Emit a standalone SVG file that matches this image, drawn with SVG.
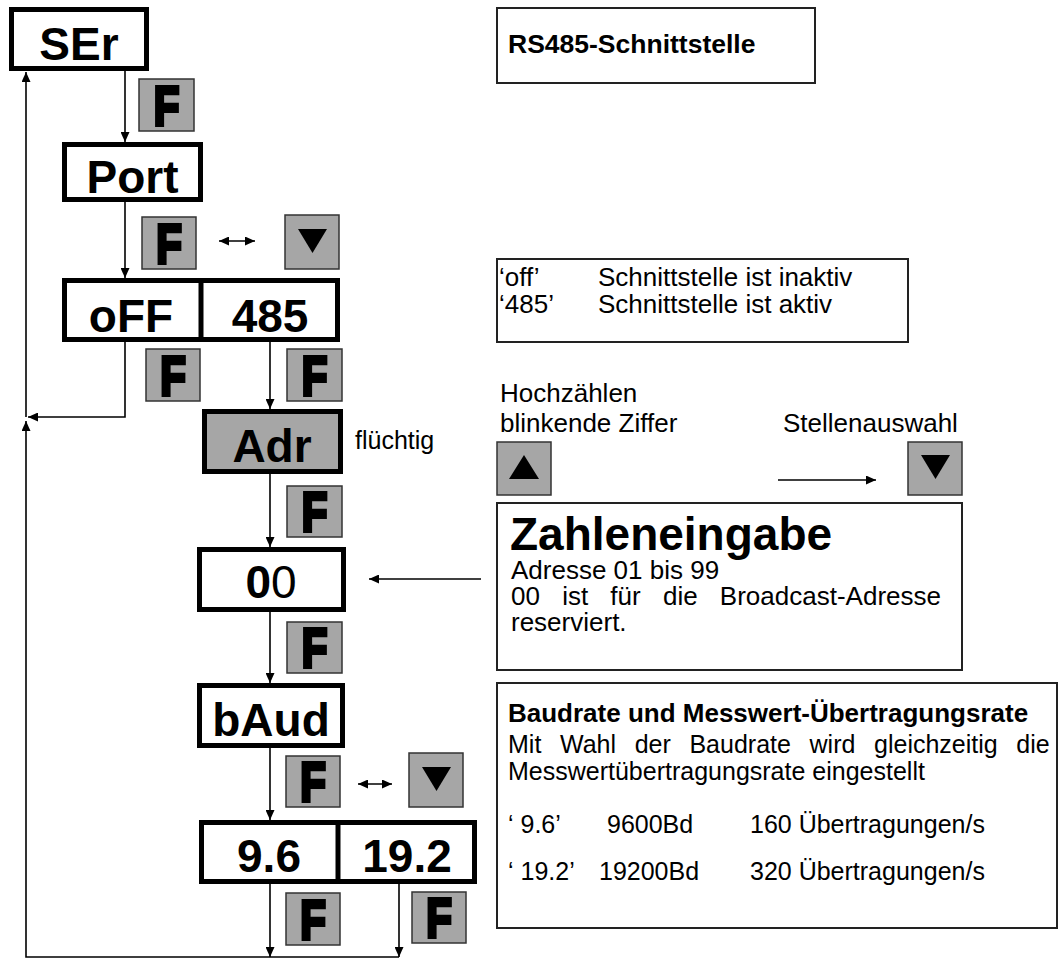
<svg xmlns="http://www.w3.org/2000/svg" width="1060" height="959" viewBox="0 0 1060 959">
<defs>
<style>
.node rect{fill:#fff;stroke:#000;stroke-width:5}
.node line{stroke:#000;stroke-width:5}
.gray rect{fill:#a6a6a6}
.lbl{font-family:'Liberation Sans',Arial,sans-serif;font-weight:bold;font-size:46px;text-anchor:middle;fill:#000}
.btn{fill:#a6a6a6;stroke:#333;stroke-width:1.5}
.fk{font-family:'Liberation Sans',Arial,sans-serif;font-weight:bold;font-size:56px;text-anchor:middle;fill:#000;stroke:#000;stroke-width:4;stroke-linejoin:miter}
.tri{fill:#000}
.conn{fill:none;stroke:#000;stroke-width:1.6}
.box{fill:#fff;stroke:#222;stroke-width:2}
.t{font-family:'Liberation Sans',Arial,sans-serif;font-size:26px;fill:#000}
.s{font-size:25px}
.b{font-weight:bold}
.big{font-size:46px}
</style>
<marker id="ah" viewBox="0 0 10 9" refX="10" refY="4.5" markerWidth="10" markerHeight="9" markerUnits="userSpaceOnUse" orient="auto-start-reverse">
<path d="M0,0 L10,4.5 L0,9 z" fill="#000"/>
</marker>
</defs>

<g id="connectors">
<path class="conn" d="M125,71 V142" marker-end="url(#ah)"/>
<path class="conn" d="M125,202 V278" marker-end="url(#ah)"/>
<path class="conn" d="M125,342 V417 H28" marker-end="url(#ah)"/>
<path class="conn" d="M26,417 V72" marker-end="url(#ah)"/>
<path class="conn" d="M270,342 V409" marker-end="url(#ah)"/>
<path class="conn" d="M270,474 V547" marker-end="url(#ah)"/>
<path class="conn" d="M270,612 V683" marker-end="url(#ah)"/>
<path class="conn" d="M270,748 V820" marker-end="url(#ah)"/>
<path class="conn" d="M270,884 V957" marker-end="url(#ah)"/>
<path class="conn" d="M399,884 V957" marker-end="url(#ah)"/>
<path class="conn" d="M399,957 H26 V421" marker-end="url(#ah)"/>
<path class="conn" d="M481,579 H369" marker-end="url(#ah)"/>
<path class="conn" d="M778,480 H876" marker-end="url(#ah)"/>
<path class="conn" d="M219,241 H255" marker-start="url(#ah)" marker-end="url(#ah)"/>
<path class="conn" d="M358,784 H392" marker-start="url(#ah)" marker-end="url(#ah)"/>
</g>

<g id="node-ser" class="node"><rect x="11.5" y="9.5" width="135" height="59"/><text class="lbl" x="79" y="60">SEr</text></g>
<g id="node-port" class="node"><rect x="64.5" y="144.5" width="136" height="55"/><text class="lbl" x="132.5" y="193">Port</text></g>
<g id="node-off-485" class="node"><rect x="64.5" y="280.5" width="273" height="59"/><line x1="201" y1="280" x2="201" y2="340"/><text class="lbl" x="131" y="332">oFF</text><text class="lbl" x="270" y="332">485</text></g>
<g id="node-adr" class="node gray"><rect x="204.5" y="411.5" width="136" height="60"/><text class="lbl" x="272" y="462">Adr</text></g>
<g id="node-00" class="node"><rect x="199.5" y="549.5" width="144" height="60"/><text class="lbl" x="271" y="598"><tspan>0</tspan><tspan style="font-weight:normal">0</tspan></text></g>
<g id="node-baud" class="node"><rect x="199.5" y="685.5" width="143" height="60"/><text class="lbl" x="271" y="736">bAud</text></g>
<g id="node-96-192" class="node"><rect x="201.5" y="822.5" width="273" height="59"/><line x1="338" y1="822" x2="338" y2="882"/><text class="lbl" x="269" y="872">9.6</text><text class="lbl" x="407" y="872">19.2</text></g>

<g id="fkey-1"><rect class="btn" x="139" y="79" width="55" height="52"/><text class="fk" transform="translate(166.5,125) scale(0.75,1)">F</text></g>
<g id="fkey-2"><rect class="btn" x="142" y="217" width="54" height="52"/><text class="fk" transform="translate(169,263) scale(0.75,1)">F</text></g>
<g id="downkey-1"><rect class="btn" x="285" y="215" width="54" height="54"/><polygon class="tri" points="298,229 327,229 312.5,253"/></g>
<g id="fkey-3"><rect class="btn" x="146" y="349" width="54" height="52"/><text class="fk" transform="translate(173,395) scale(0.75,1)">F</text></g>
<g id="fkey-4"><rect class="btn" x="287" y="349" width="55" height="52"/><text class="fk" transform="translate(314.5,395) scale(0.75,1)">F</text></g>
<g id="label-fluechtig"><text class="t" x="355" y="449" style="font-size:25px">flüchtig</text></g>
<g id="fkey-5"><rect class="btn" x="287" y="486" width="55" height="51"/><text class="fk" transform="translate(314.5,531) scale(0.75,1)">F</text></g>
<g id="fkey-6"><rect class="btn" x="287" y="622" width="55" height="51"/><text class="fk" transform="translate(314.5,667) scale(0.75,1)">F</text></g>
<g id="fkey-7"><rect class="btn" x="286" y="756" width="54" height="51"/><text class="fk" transform="translate(313,801) scale(0.75,1)">F</text></g>
<g id="downkey-2"><rect class="btn" x="409" y="753" width="54" height="54"/><polygon class="tri" points="422,767 451,767 436.5,791"/></g>
<g id="fkey-8"><rect class="btn" x="286" y="893" width="54" height="52"/><text class="fk" transform="translate(313,939) scale(0.75,1)">F</text></g>
<g id="fkey-9"><rect class="btn" x="412" y="892" width="54" height="51"/><text class="fk" transform="translate(439,937) scale(0.75,1)">F</text></g>

<g id="info-title"><rect class="box" x="497" y="8" width="318" height="75"/><text class="t b" x="508" y="53" style="font-size:26.5px">RS485-Schnittstelle</text></g>
<g id="info-port"><rect class="box" x="497" y="259" width="411" height="83"/>
<text class="t" x="499" y="286">‘off’</text><text class="t" x="598" y="286">Schnittstelle ist inaktiv</text>
<text class="t" x="499" y="313">‘485’</text><text class="t" x="598" y="313">Schnittstelle ist aktiv</text></g>
<g id="info-keys">
<text class="t" x="500" y="402">Hochzählen</text>
<text class="t" x="500" y="432">blinkende Ziffer</text>
<text class="t" x="783" y="432">Stellenauswahl</text>
</g>
<g id="upkey"><rect class="btn" x="497" y="442" width="54" height="53"/><polygon class="tri" points="509,479 539,479 524,455"/></g>
<g id="downkey-3"><rect class="btn" x="908" y="442" width="54" height="53"/><polygon class="tri" points="921,455 950,455 935.5,479"/></g>
<g id="info-zahl"><rect class="box" x="497" y="503" width="465" height="167"/>
<text class="t b big" x="510" y="550">Zahleneingabe</text>
<text class="t" x="511" y="579">Adresse 01 bis 99</text>
<text class="t" x="511" y="605" style="word-spacing:15px">00 ist für die Broadcast-Adresse</text>
<text class="t" x="511" y="631">reserviert.</text></g>
<g id="info-baud"><rect class="box" x="497" y="683" width="560" height="245"/>
<text class="t b" x="508" y="722" style="font-size:26px">Baudrate und Messwert-Übertragungsrate</text>
<text class="t s" x="508" y="753" style="word-spacing:11.7px">Mit Wahl der Baudrate wird gleichzeitig die</text>
<text class="t s" x="508" y="780">Messwertübertragungsrate eingestellt</text>
<text class="t s" x="508" y="833">‘ 9.6’</text><text class="t s" x="607" y="833">9600Bd</text><text class="t s" x="750" y="833">160 Übertragungen/s</text>
<text class="t s" x="508" y="880">‘ 19.2’</text><text class="t s" x="599" y="880">19200Bd</text><text class="t s" x="750" y="880">320 Übertragungen/s</text></g>
</svg>
